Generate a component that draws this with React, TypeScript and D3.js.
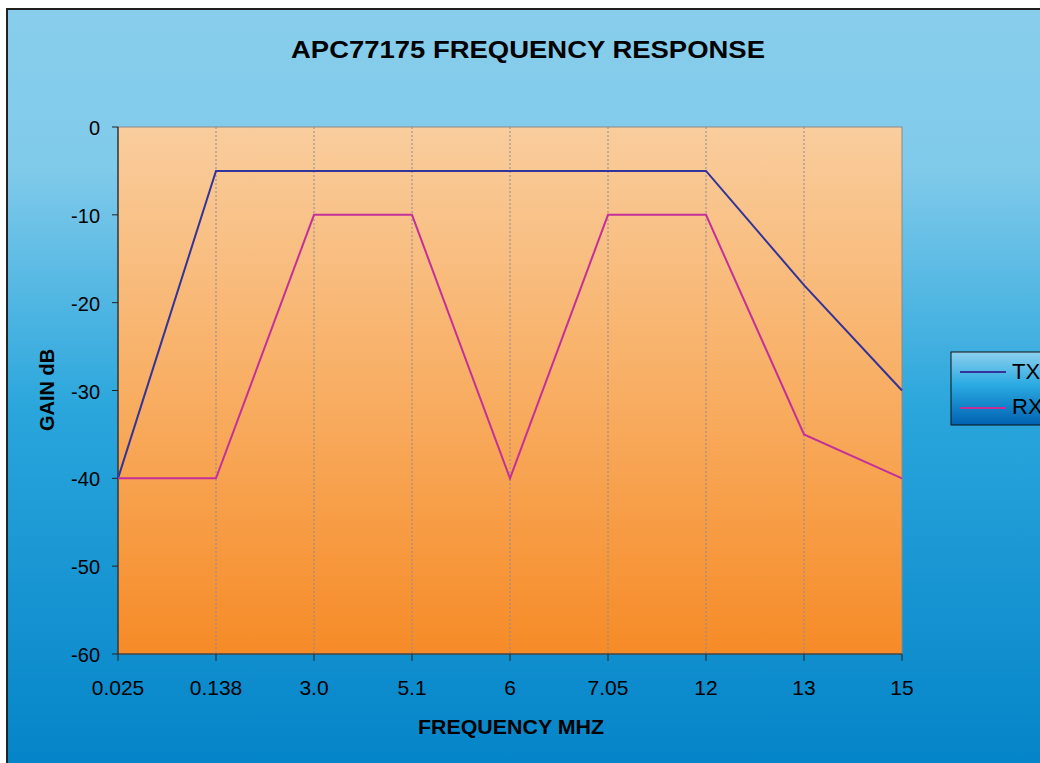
import React from "react";
import * as d3 from "d3";

const categories = ["0.025", "0.138", "3.0", "5.1", "6", "7.05", "12", "13", "15"];
const txValues = [-40, -5, -5, -5, -5, -5, -5, -18, -30];
const rxValues = [-40, -40, -10, -10, -40, -10, -10, -35, -40];
const yTicks = [0, -10, -20, -30, -40, -50, -60];

const W = 1040, H = 763;
const plot = { left: 118, right: 902, top: 127, bottom: 654 };
const font = "Liberation Sans, Arial, sans-serif";

export default function App() {
  const x = d3.scalePoint<string>().domain(categories).range([plot.left, plot.right]);
  const y = d3.scaleLinear().domain([-60, 0]).range([plot.bottom, plot.top]);
  const line = d3.line<number>().x((_, i) => x(categories[i]) as number).y((d) => y(d));

  return (
    <svg width={W} height={H} style={{ position: "absolute", left: 0, top: 0, background: "#fff" }}>
      <defs>
        <linearGradient id="bg" x1="0" y1="0" x2="0" y2="1">
          <stop offset="0" stopColor="#88CEEC" />
          <stop offset="0.2" stopColor="#80CAEA" />
          <stop offset="0.5" stopColor="#2AA6DC" />
          <stop offset="1" stopColor="#0080C6" />
        </linearGradient>
        <linearGradient id="pl" x1="0" y1="0" x2="0" y2="1">
          <stop offset="0" stopColor="#F9CD9D" />
          <stop offset="0.5" stopColor="#F8AE63" />
          <stop offset="1" stopColor="#F68B27" />
        </linearGradient>
        <linearGradient id="lg" x1="0" y1="0" x2="0" y2="1">
          <stop offset="0" stopColor="#8DD0EE" />
          <stop offset="0.45" stopColor="#2AAAE2" />
          <stop offset="1" stopColor="#0062B2" />
        </linearGradient>
      </defs>
      <rect x={7} y={9} width={1100} height={800} fill="url(#bg)" stroke="#222" strokeWidth={2} />
      <text x={291} y={58} textLength={474} lengthAdjust="spacingAndGlyphs" fontFamily={font} fontWeight="bold" fontSize={24} fill="#000">
        APC77175 FREQUENCY RESPONSE
      </text>
      <rect x={plot.left} y={plot.top} width={plot.right - plot.left} height={plot.bottom - plot.top} fill="url(#pl)" stroke="#8a8a8a" strokeWidth={1} />
      {categories.slice(1, -1).map((c) => (
        <line key={c} x1={x(c)} x2={x(c)} y1={plot.top} y2={plot.bottom} stroke="#8a8a9a" strokeWidth={1} strokeDasharray="2,2" />
      ))}
      <line x1={plot.left} x2={plot.left} y1={plot.top} y2={plot.bottom} stroke="#222" strokeWidth={1.2} />
      <line x1={plot.left} x2={plot.right} y1={plot.bottom} y2={plot.bottom} stroke="#222" strokeWidth={1.2} />
      {yTicks.map((t) => (
        <g key={t}>
          <line x1={plot.left - 6} x2={plot.left} y1={y(t)} y2={y(t)} stroke="#222" />
          <text x={100} y={y(t) + 8} textAnchor="end" fontFamily={font} fontSize={20} fill="#000">{t}</text>
        </g>
      ))}
      {categories.map((c) => (
        <g key={c}>
          <line x1={x(c)} x2={x(c)} y1={plot.bottom} y2={plot.bottom + 7} stroke="#222" />
          <text x={x(c)} y={695} textAnchor="middle" fontFamily={font} fontSize={21} fill="#000">{c}</text>
        </g>
      ))}
      <text x={418} y={734} textLength={186} lengthAdjust="spacingAndGlyphs" fontFamily={font} fontWeight="bold" fontSize={20} fill="#000">FREQUENCY MHZ</text>
      <text transform={`translate(54,390) rotate(-90)`} textAnchor="middle" fontFamily={font} fontWeight="bold" fontSize={20} fill="#000">GAIN dB</text>
      <path d={line(txValues) as string} fill="none" stroke="#333399" strokeWidth={2} />
      <path d={line(rxValues) as string} fill="none" stroke="#C4309A" strokeWidth={2} />
      <rect x={951} y={352} width={120} height={73} fill="url(#lg)" stroke="#111" strokeWidth={1} />
      <line x1={960} x2={1006} y1={372} y2={372} stroke="#333399" strokeWidth={2} />
      <text x={1012} y={379} fontFamily={font} fontSize={22} fill="#000">TX</text>
      <line x1={960} x2={1006} y1={408} y2={408} stroke="#C4309A" strokeWidth={2} />
      <text x={1012} y={414} fontFamily={font} fontSize={22} fill="#000">RX</text>
    </svg>
  );
}
